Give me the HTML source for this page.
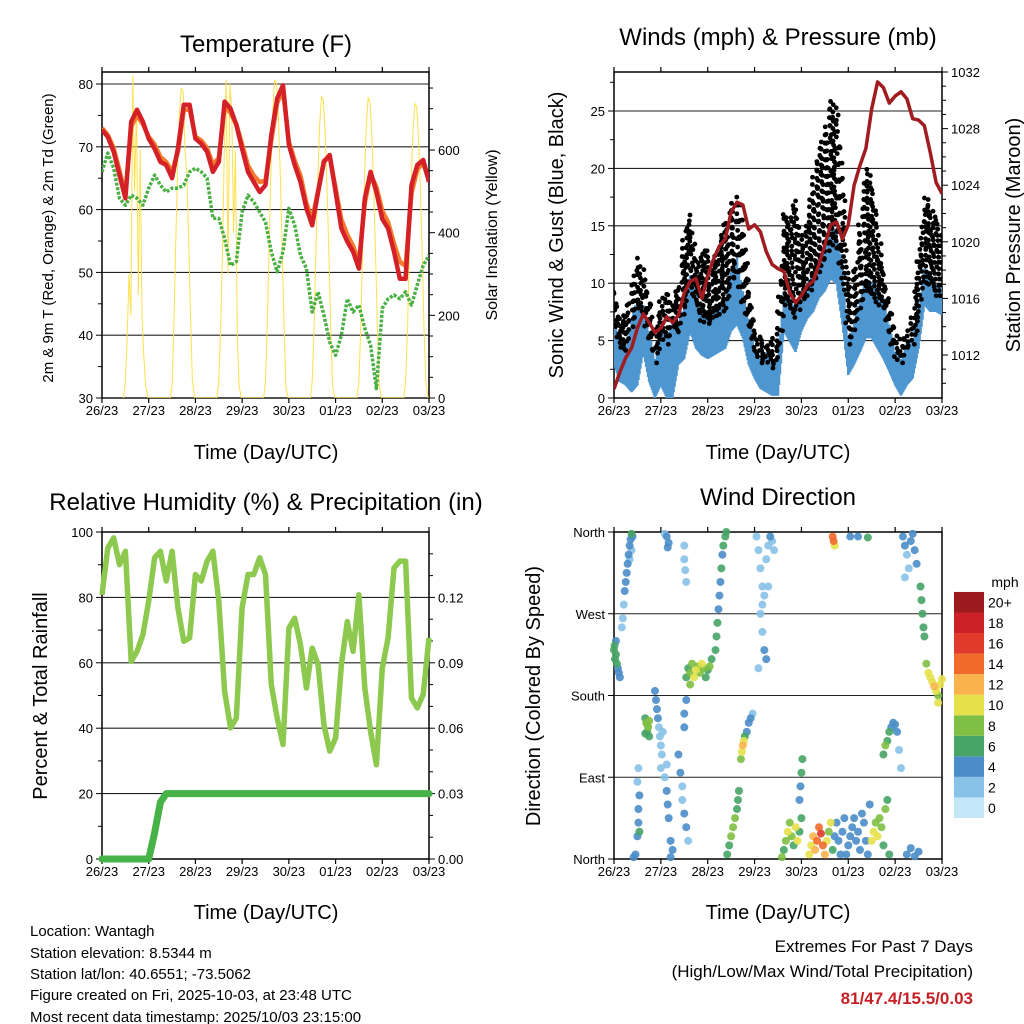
<!DOCTYPE html>
<html><head><meta charset="utf-8"><style>
html,body{margin:0;padding:0;background:#fff;}
svg{display:block;font-family:"Liberation Sans",Arial,sans-serif;}
</style></head><body>
<svg id="chart" width="1024" height="1024" viewBox="0 0 1024 1024" xmlns="http://www.w3.org/2000/svg">
<defs>
<clipPath id="c1"><rect x="102" y="72" width="327" height="326"/></clipPath>
<clipPath id="c2"><rect x="614" y="72" width="328" height="326"/></clipPath>
<clipPath id="c3"><rect x="96" y="526" width="340" height="340"/></clipPath>
<clipPath id="c4"><rect x="608" y="527" width="338" height="338"/></clipPath>
</defs>
<text x="266" y="52" font-size="24" text-anchor="middle">Temperature (F)</text>
<text x="778" y="45" font-size="24" text-anchor="middle">Winds (mph) &amp; Pressure (mb)</text>
<text x="266" y="510" font-size="24" text-anchor="middle">Relative Humidity (%) &amp; Precipitation (in)</text>
<text x="778" y="505" font-size="24" text-anchor="middle">Wind Direction</text>
<text transform="translate(53,238) rotate(-90)" font-size="15" text-anchor="middle">2m &amp; 9m T (Red, Orange) &amp; 2m Td (Green)</text>
<text transform="translate(497,235) rotate(-90)" font-size="16" text-anchor="middle">Solar Insolation (Yellow)</text>
<text transform="translate(563,235) rotate(-90)" font-size="20" text-anchor="middle">Sonic Wind &amp; Gust (Blue, Black)</text>
<text transform="translate(1020,235) rotate(-90)" font-size="20" text-anchor="middle">Station Pressure (Maroon)</text>
<text transform="translate(47,696) rotate(-90)" font-size="20" text-anchor="middle">Percent &amp; Total Rainfall</text>
<text transform="translate(540,696) rotate(-90)" font-size="20" text-anchor="middle">Direction (Colored By Speed)</text>
<text x="266" y="459" font-size="20" text-anchor="middle">Time (Day/UTC)</text>
<text x="778" y="459" font-size="20" text-anchor="middle">Time (Day/UTC)</text>
<text x="266" y="919" font-size="20" text-anchor="middle">Time (Day/UTC)</text>
<text x="778" y="919" font-size="20" text-anchor="middle">Time (Day/UTC)</text>
<g font-size="15">
<text x="30" y="936">Location: Wantagh</text>
<text x="30" y="958">Station elevation: 8.5344 m</text>
<text x="30" y="979">Station lat/lon: 40.6551; -73.5062</text>
<text x="30" y="1000">Figure created on Fri, 2025-10-03, at 23:48 UTC</text>
<text x="30" y="1022">Most recent data timestamp: 2025/10/03 23:15:00</text>
</g>
<g font-size="17" text-anchor="end">
<text x="973" y="952">Extremes For Past 7 Days</text>
<text x="973" y="977">(High/Low/Max Wind/Total Precipitation)</text>
<text x="973" y="1004" fill="#c62026" font-weight="bold">81/47.4/15.5/0.03</text>
</g>
</svg>
<script>
const hours=[0,3,6,9,12,15,18,21,24,27,30,33,36,39,42,45,48,51,54,57,60,63,66,69,72,75,78,81,84,87,90,93,96,99,102,105,108,111,114,117,120,123,126,129,132,135,138,141,144,147,150,153,156,159,162,165,168];
const dayLabels=["26/23","27/23","28/23","29/23","30/23","01/23","02/23","03/23"];
const tempRed=[72.7,71.6,69.2,65.5,61.8,74.0,75.9,74.0,71.3,69.7,67.6,67.1,65.0,69.7,76.7,76.7,71.3,70.5,69.2,66.0,67.6,77.2,76.1,73.5,69.7,66.0,64.4,62.8,63.9,71.9,77.7,79.8,70.3,67.1,64.4,60.2,57.5,62.8,67.6,68.7,62.8,57.0,54.9,53.3,50.6,61.8,66.0,62.8,58.5,57.0,53.3,49.0,49.0,63.9,67.1,67.9,64.4];
const tempOrange=[73.0,71.9,69.8,66.2,62.5,73.2,75.0,73.6,71.6,70.4,68.4,67.6,66.0,69.2,75.8,76.0,71.6,71.0,69.8,67.2,68.2,76.4,75.4,73.6,70.4,67.0,65.4,64.4,64.6,71.0,77.0,79.0,70.8,67.8,65.4,61.0,58.4,63.0,67.8,68.4,63.4,58.4,56.0,54.2,51.6,61.0,65.6,63.6,59.8,58.0,54.6,51.7,51.0,62.6,66.4,67.4,64.6];
const dewpoint=[66.0,69.0,66.6,61.8,60.7,62.3,61.8,60.7,63.4,65.5,63.9,62.8,63.4,63.4,63.9,66.0,66.6,66.0,65.0,58.6,58.6,55.4,51.1,51.7,59.6,62.3,61.2,59.6,58.0,53.3,50.1,53.3,60.2,57.5,52.7,50.6,43.7,46.9,43.2,38.9,36.8,40.0,45.8,43.7,44.8,41.1,38.4,31.5,44.3,45.8,46.4,45.8,46.9,44.8,48.0,51.1,52.7];
const solarDay1=[40,150,300,200,780,500,700,250,600,200,100,30];
const solarDay2=[30,180,380,560,690,750,740,600,540,380,190,40];
const solarDay3=[40,170,350,600,770,300,760,700,400,600,150,30];
const solarDay4=[40,180,380,560,700,770,760,680,540,370,180,30];
const solarDay5=[40,170,360,530,660,730,720,640,510,350,170,30];
const solarDay6=[40,170,360,530,660,728,715,635,505,345,165,30];
const solarDay7=[40,165,350,520,650,712,705,625,500,340,160,30];
const pressure=[1009.6,1010.8,1011.8,1012.5,1013.9,1014.9,1014.3,1013.6,1013.9,1014.7,1014.3,1014.8,1016.4,1017.2,1017.4,1016.0,1017.6,1018.8,1019.7,1020.2,1022.1,1022.8,1022.6,1020.9,1021.2,1020.7,1019.3,1018.4,1018.1,1017.9,1016.4,1015.7,1016.2,1016.9,1017.2,1018.4,1019.8,1021.2,1021.4,1020.2,1021.2,1024.0,1025.4,1026.6,1029.4,1031.3,1030.9,1029.8,1030.3,1030.6,1030.1,1028.7,1028.6,1028.2,1026.3,1024.2,1023.4];
const windHi=[6.9,4.9,4.6,6.9,8.7,8.1,5.8,3.4,6.1,5.2,6.9,6.4,8.1,10.7,9.0,7.5,7.2,7.8,8.1,8.7,11.0,12.2,9.3,6.9,4.6,3.4,4.0,2.9,3.7,9.3,8.7,7.8,9.3,9.9,11.0,12.2,13.4,15.1,14.5,11.6,5.2,6.6,8.7,10.4,10.1,9.3,8.7,6.4,4.0,3.4,4.9,5.2,7.8,11.3,11.0,9.9,9.9];
const windLo=[2.9,1.4,1.1,0.5,1.1,4.0,1.4,0.0,1.1,0.0,0.0,2.9,3.4,5.8,4.3,3.7,3.4,3.7,4.0,4.3,5.8,6.4,5.2,2.9,1.7,0.8,0.5,0.2,0.2,5.8,4.9,4.0,5.8,6.9,7.5,8.7,9.3,10.4,9.9,6.4,2.0,2.9,4.0,5.2,5.2,4.3,3.4,2.3,1.1,0.2,1.1,1.7,4.3,8.1,7.5,7.5,7.2];
const gustHi=[10.4,7.2,7.2,9.3,12.8,11.0,8.7,6.1,8.7,9.3,8.7,9.9,15.1,16.3,12.2,12.8,13.1,11.6,13.9,15.4,16.9,18.0,15.4,10.4,6.4,5.2,4.9,4.9,5.8,16.3,15.7,17.4,14.5,15.7,19.8,21.8,23.3,26.5,24.7,19.5,10.1,11.6,16.3,20.6,18.9,15.1,11.6,8.7,5.8,4.9,6.1,7.5,12.8,18.0,16.9,15.7,14.5];
const humidity=[80.8,95.1,98.2,90.0,94.1,60.4,63.5,68.6,78.8,92.1,94.1,85.0,94.1,76.8,66.6,67.6,87.0,85.0,91.1,94.1,78.8,51.3,40.1,43.1,76.8,87.0,87.0,92.1,87.0,53.3,43.1,35.0,70.6,73.6,65.5,52.3,64.5,59.4,41.1,33.0,37.0,59.4,72.6,63.5,80.8,52.3,39.0,28.8,58.4,67.6,89.0,91.1,91.1,49.2,46.2,50.3,67.6];
const precip=[0,0,0,0,0,0,0,0,0,0.012,0.026,0.03,0.03,0.03,0.03,0.03,0.03,0.03,0.03,0.03,0.03,0.03,0.03,0.03,0.03,0.03,0.03,0.03,0.03,0.03,0.03,0.03,0.03,0.03,0.03,0.03,0.03,0.03,0.03,0.03,0.03,0.03,0.03,0.03,0.03,0.03,0.03,0.03,0.03,0.03,0.03,0.03,0.03,0.03,0.03,0.03,0.03];
const dirHour=[0,0.5,1,1.5,2,1,0.3,2.5,3, 4,4.5,5,5.5,6,6.5,7,7.5,8,8.5,9,9.5,9,8, 10,11,12,12.5,12.5,13,12,12.5,13, 16,16.5,17,17.5,18,16,17,18, 21,21.5,22,22.5,23,23.5,24,24.5,25,24, 26,27,27.5,28,29,30,29,27, 26,27,28,27.5, 36,36,36.5,37, 33,34,35,35,36,37,38, 37,38,39,40,41,42,43,44,45,46,47,48,49,50,39,37,36,36, 52,52.5,53,53.5,54,54.5,55,55.5,56,57,57.5, 58,59,60,61,62,63,63.5,64, 65,65.5,66,66.5,67,68,69,70,71, 73,74,75,76,77,78,79,80,81,82,75,76,77,78,74,76,79, 86,87,88,89,90,91,92,93,94,95,96, 95,95.5,96,96.5, 100,101,102,103,104,105,106,107,108,109,110,111,112,113,114,115,116,117,118, 112,112.5,113, 119,120,121,122,123,124,125,126,127,128,129,130,131, 121,125,130, 132,133,134,135,136,137,138,139,140,141, 138,139,140,141,142,143,144,145,146,147, 148,149,150,151,152,153,154,155,149, 157,157.5,158,158.5,159, 160,161,162,163,164,165,166,167,168,166, 150,152,154,156];
const dirDeg=[230,220,240,215,210,225,235,205,200, 255,265,280,295,305,315,325,335,345,352,358,355,340,330, 2,5,25,40,55,70,85,100,30, 155,150,148,145,152,138,140,135, 185,175,165,155,145,135,125,115,140,100, 90,75,60,45,20,10,2,104, 358,355,348,343, 345,330,318,305, 115,95,80,65,50,35,20, 200,210,205,215,200,208,212,205,215,210,200,208,212,220,192,175,160,145, 230,245,260,275,290,305,320,335,345,355,360, 5,15,25,35,45,55,65,75, 110,118,125,130,135,140,150,155,160, 355,340,320,300,290,330,345,355,350,340,270,250,230,220,210,280,300, 2,10,20,30,40,25,15,35,20,30,45, 65,80,95,110, 5,15,25,10,20,35,28,15,5,20,30,40,10,25,40,20,5,30,45, 355,350,345, 5,15,25,35,45,20,30,10,50,40,20,5,60, 355,355,354, 20,30,40,25,45,35,15,55,65,5, 115,125,130,140,145,150,148,140,120,100, 355,345,335,320,350,358,340,325,310, 300,285,270,255,245, 215,205,200,195,190,185,180,192,198,172, 5,12,3,8];
const dirSpeed=[6,5,4,6,4,6,5,4,4, 2,2,2,3,3,4,4,3,4,4,6,4,2,2, 3,4,4,4,4,3,2,1,6, 6,7,8,7,8,6,6,5, 4,4,4,3,2,2,2,1,2,1, 1,4,3,4,4,4,3,2, 2,4,4,4, 1,1,2,2, 4,4,1,2,4,3,2, 6,6,8,8,9,10,8,7,9,8,6,5,7,6,7,4,4,4, 6,6,5,4,4,4,5,4,6,6,6, 6,6,7,8,7,6,6,6, 8,10,12,10,6,4,4,4,2, 1,2,2,1,2,2,2,3,2,2,2,2,4,4,2,2,2, 8,6,8,9,7,8,6,9,10,6,5, 4,4,6,6, 9,10,12,12,13,14,15,14,12,10,8,9,6,4,4,4,4,4,4, 14,14,10, 4,4,4,4,4,3,4,4,3,4,4,4,4, 4,4,6, 9,10,8,10,8,7,6,7,6,6, 6,7,6,5,4,4,4,3,2,1, 4,3,2,2,4,4,4,3,1, 6,6,6,5,6, 8,10,10,9,12,10,8,9,10,9, 4,4,4,4];
const speedLabels=["0","2","4","6","8","10","12","14","16","18","20+"];
const speedColors=["#c4e7f8","#88c2e8","#4a8dc8","#46a466","#7ebf44","#e6e14a","#f9b24c","#f16a2a","#df3a2b","#cc2027","#9c1a1e"];

const NS='http://www.w3.org/2000/svg';
const svg=document.getElementById('chart');
function mk(tag,attrs,parent){const e=document.createElementNS(NS,tag);for(const k in attrs)e.setAttribute(k,attrs[k]);(parent||svg).appendChild(e);return e;}
function txt(x,y,s,size,anchor,parent){const t=mk('text',{x:x,y:y,'font-size':size,'text-anchor':anchor},parent);t.textContent=s;return t;}
function grp(name){const g=mk('g',{});return g;}
function pathD(xs,ys){return xs.map((x,i)=>(i?'L':'M')+x.toFixed(1)+' '+ys[i].toFixed(1)).join(' ');}

const x1=h=>102+h/168*327, x2=h=>614+h/168*328, x3=x1, x4=x2;
const yT=v=>398-(v-30)*6.28, ySol=v=>398-v*0.4133;
const yW=v=>398-v*11.48, yP=p=>355-(p-1012)*14.15;
const yR=v=>859-v*3.27, yPr=v=>859-v/0.15*327;
const yD=d=>859-d/360*327;

function frame(name,L,T,R,B,xs){
  const g=grp(name);
  mk('rect',{x:L,y:T,width:R-L,height:B-T,fill:'none',stroke:'#000','stroke-width':1.5},g);
  for(let d=0;d<8;d++){const x=xs(d*24);
    mk('line',{x1:x,y1:B,x2:x,y2:B+5,stroke:'#000','stroke-width':1.2},g);
    mk('line',{x1:x,y1:T,x2:x,y2:T-5,stroke:'#000','stroke-width':1.2},g);
    txt(x,B+17,dayLabels[d],13,'middle',g);}
  return g;
}
function gridH(g,L,R,ys){ys.forEach(y=>mk('line',{x1:L,y1:y,x2:R,y2:y,stroke:'#222','stroke-width':1.1},g));}
function yTicks(g,side,x,vals,fy,len,labels){vals.forEach((v,i)=>{const y=fy(v);const dx=side==='L'?-len:len;
  mk('line',{x1:x,y1:y,x2:x+dx,y2:y,stroke:'#000','stroke-width':1},g);
  if(labels){txt(side==='L'?x-9:x+9,y+5,labels[i],13,side==='L'?'end':'start',g);}});}

// Panel 1
{
 const g=frame('temperature-panel',102,72,429,398,x1);
 gridH(g,102,429,[30,40,50,60,70,80].map(yT));
 yTicks(g,'L',102,[80,70,60,50,40,30],yT,6,['80','70','60','50','40','30']);
 yTicks(g,'L',102,[35,45,55,65,75],yT,4);
 yTicks(g,'R',429,[0,200,400,600],ySol,6,['0','200','400','600']);
 yTicks(g,'R',429,[50,100,150,250,300,350,450,500,550,650,700,750],ySol,4);
 const solarDays=[solarDay1,solarDay2,solarDay3,solarDay4,solarDay5,solarDay6,solarDay7];
 const sx=[],sy=[];
 solarDays.forEach((day,d)=>{sx.push(x1(d*24+11));sy.push(ySol(0));day.forEach((v,k)=>{sx.push(x1(d*24+12+k*0.95));sy.push(ySol(v));});sx.push(x1(d*24+23.6));sy.push(ySol(0));if(d<6){sx.push(x1(d*24+35));sy.push(ySol(0));}});
 const cg=mk('g',{'clip-path':'url(#c1)'},g);
 const sol=mk('path',{d:pathD(sx,sy),fill:'none',stroke:'#ffe04a','stroke-width':1},cg);
 
 
 const dp=mk('path',{d:pathD(hours.map(x1),dewpoint.map(yT)),fill:'none',stroke:'#4bb043','stroke-width':3.5,'stroke-dasharray':'3 1.6','stroke-linejoin':'round'},cg);
 
 
 const or=mk('path',{d:pathD(hours.map(x1),tempOrange.map(yT)),fill:'none',stroke:'#f47b2d','stroke-width':4.5,'stroke-linejoin':'round'},cg);
 
 
 const rd=mk('path',{d:pathD(hours.map(x1),tempRed.map(yT)),fill:'none',stroke:'#d42027','stroke-width':4.5,'stroke-linejoin':'round'},cg);
 
 
}
// Panel 2
{
 const g=frame('winds-panel',614,72,942,398,x2);
 gridH(g,614,942,[5,10,15,20,25].map(yW));
 yTicks(g,'L',614,[0,5,10,15,20,25],yW,6,['0','5','10','15','20','25']);
 yTicks(g,'L',614,[2.5,7.5,12.5,17.5,22.5,27.5],yW,4);
 yTicks(g,'R',942,[1012,1016,1020,1024,1028,1032],yP,6,['1012','1016','1020','1024','1028','1032']);
 const minorP=[];for(let p=1010;p<=1032;p++)if((p-1012)%4)minorP.push(p);
 yTicks(g,'R',942,minorP,yP,4);
 const cg=mk('g',{'clip-path':'url(#c2)'},g);
 const bg=mk('g',{},cg);
 
 
 const kg=mk('g',{},cg);
 
 
 const SUB=6;
 for(let i=0;i<hours.length;i++){
  const n=i<hours.length-1?SUB:1;
  for(let s=0;s<n;s++){
   const f=s/SUB,j=Math.min(i+1,hours.length-1);
   const h=hours[i]+(hours[j]-hours[i])*f;
   const hi=windHi[i]+(windHi[j]-windHi[i])*f, lo=windLo[i]+(windLo[j]-windLo[i])*f, gu=gustHi[i]+(gustHi[j]-gustHi[i])*f;
   const wiggle=(s%2?0.85:1);
   const x=x2(h);
   const b=mk('line',{x1:x,y1:yW(lo),x2:x,y2:yW(hi*wiggle),stroke:'#4e96d0','stroke-width':2.6},bg);
   
   
   const step=1.45;
   for(let v=hi*0.9+(s%3)*0.45;v<=gu;v+=step){
    const c=mk('circle',{cx:x+((s*7+Math.round(v*3))%5-2)*0.8,cy:yW(v),r:2.4,fill:'#000'},kg);
    
    
   }
  }
 }
 const pp=mk('path',{d:pathD(hours.map(x2),pressure.map(yP)),fill:'none',stroke:'#a01c20','stroke-width':3.5,'stroke-linejoin':'round'},cg);
 
 
}
// Panel 3
{
 const g=frame('humidity-panel',102,532,429,859,x3);
 gridH(g,102,429,[20,40,60,80].map(yR));
 yTicks(g,'L',102,[0,20,40,60,80,100],yR,6,['0','20','40','60','80','100']);
 yTicks(g,'L',102,[10,30,50,70,90],yR,4);
 yTicks(g,'R',429,[0,0.03,0.06,0.09,0.12],yPr,6,['0.00','0.03','0.06','0.09','0.12']);
 yTicks(g,'R',429,[0.01,0.02,0.04,0.05,0.07,0.08,0.1,0.11,0.13,0.14],yPr,4);
 const cg=mk('g',{'clip-path':'url(#c3)'},g);
 const rh=mk('path',{d:pathD(hours.map(x3),humidity.map(yR)),fill:'none',stroke:'#8dc94e','stroke-width':5.5,'stroke-linejoin':'round'},cg);
 
 
 const pr=mk('path',{d:pathD(hours.map(x3),precip.map(yPr)),fill:'none',stroke:'#46b248','stroke-width':7,'stroke-linecap':'round','stroke-linejoin':'round'},cg);
 
 
}
// Panel 4
{
 const g=frame('wind-direction-panel',614,532,942,859,x4);
 gridH(g,614,942,[90,180,270].map(yD));
 yTicks(g,'L',614,[0,90,180,270,360],yD,6,['North','East','South','West','North']);
 const cg=mk('g',{'clip-path':'url(#c4)'},g);
 const order=dirSpeed.map((s,i)=>i).sort((a,b)=>dirSpeed[a]-dirSpeed[b]);
 order.forEach(i=>{
  const bin=Math.min(10,Math.floor(dirSpeed[i]/2+0.5));
  const c=mk('circle',{cx:x4(dirHour[i]),cy:yD(dirDeg[i]),r:4,fill:speedColors[bin],'fill-opacity':0.9},cg);
  
  
 });
 const lg=grp('speed-colorbar');
 txt(1005,587,'mph',14,'middle',lg);
 speedColors.forEach((col,k)=>{
  const y=818-(k+1)*20.55;
  const r=mk('rect',{x:954,y:y,width:30,height:20.55,fill:col},lg);
  
  
  txt(988,y+15.5,speedLabels[k],14,'start',lg);
 });
}
</script>
</body></html>
